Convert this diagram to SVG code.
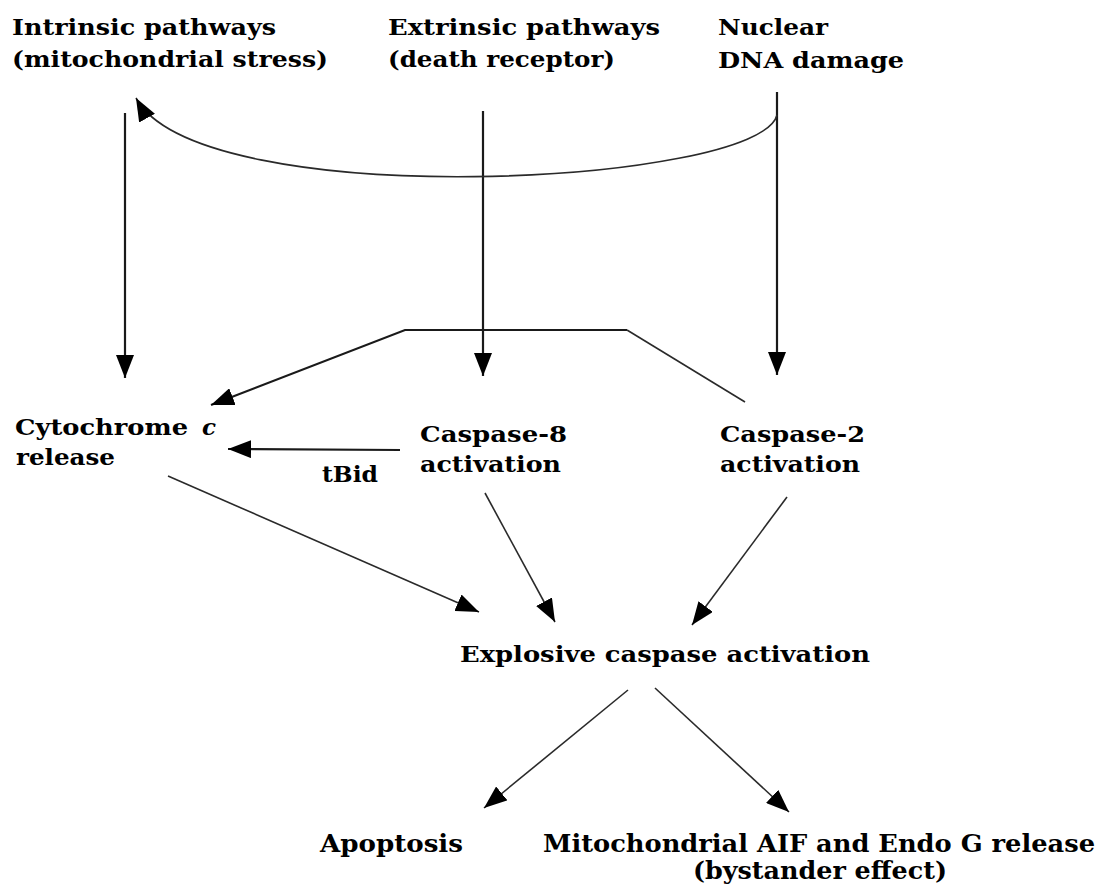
<svg xmlns="http://www.w3.org/2000/svg" width="1101" height="886" viewBox="0 0 1101 886">
<style>
  text { font-family: "DejaVu Serif", "Liberation Serif", serif; font-weight: bold; font-size: 23px; fill: #000; }
  .big { font-size: 24px; }
  .edge { fill: none; stroke: #1a1a1a; stroke-width: 2.2; }
  .thin { fill: none; stroke: #2a2a2a; stroke-width: 1.6; }
</style>
<defs>
  <marker id="ah" markerUnits="userSpaceOnUse" markerWidth="24" markerHeight="18" refX="23" refY="9" orient="auto">
    <path d="M0,0 L23,9 L0,18 z" fill="#000"/>
  </marker>
</defs>
<rect width="1101" height="886" fill="#fff"/>

<g id="connectors">
  <line class="edge" x1="125" y1="113" x2="125" y2="378" marker-end="url(#ah)"/>
  <line class="edge" x1="483" y1="111" x2="483" y2="376" marker-end="url(#ah)"/>
  <line class="edge" x1="777" y1="92" x2="777" y2="375" marker-end="url(#ah)"/>
  <path class="thin" d="M777,115 C760,185 200,215 136,98" marker-end="url(#ah)"/>
  <path class="edge" d="M627,330 L405,330 L211,405" marker-end="url(#ah)"/>
  <line class="thin" x1="627" y1="330" x2="745" y2="402"/>
  <line class="edge" x1="400" y1="450" x2="228" y2="449" marker-end="url(#ah)"/>
  <line class="thin" x1="168" y1="476" x2="479" y2="612" marker-end="url(#ah)"/>
  <line class="thin" x1="485" y1="493" x2="555" y2="622" marker-end="url(#ah)"/>
  <line class="thin" x1="787" y1="497" x2="692" y2="625" marker-end="url(#ah)"/>
  <line class="thin" x1="628" y1="690" x2="484" y2="808" marker-end="url(#ah)"/>
  <line class="thin" x1="655" y1="688" x2="789" y2="812" marker-end="url(#ah)"/>
</g>

<g id="intrinsic">
  <text x="12" y="35" textLength="264" lengthAdjust="spacingAndGlyphs">Intrinsic pathways</text>
  <text x="12" y="67" textLength="316" lengthAdjust="spacingAndGlyphs">(mitochondrial stress)</text>
</g>
<g id="extrinsic">
  <text x="388" y="35" textLength="272" lengthAdjust="spacingAndGlyphs">Extrinsic pathways</text>
  <text x="388" y="67" textLength="227" lengthAdjust="spacingAndGlyphs">(death receptor)</text>
</g>
<g id="dna">
  <text x="718" y="35" textLength="110" lengthAdjust="spacingAndGlyphs">Nuclear</text>
  <text x="718" y="68" textLength="186" lengthAdjust="spacingAndGlyphs">DNA damage</text>
</g>
<g id="cytc">
  <text x="15" y="435" textLength="173" lengthAdjust="spacingAndGlyphs">Cytochrome</text>
  <text x="202" y="435" font-style="italic">c</text>
  <text x="16" y="465" textLength="99" lengthAdjust="spacingAndGlyphs">release</text>
</g>
<g id="casp8">
  <text x="420" y="442" textLength="147" lengthAdjust="spacingAndGlyphs">Caspase-8</text>
  <text x="420" y="472" textLength="141" lengthAdjust="spacingAndGlyphs">activation</text>
</g>
<g id="casp2">
  <text x="720" y="442" textLength="145" lengthAdjust="spacingAndGlyphs">Caspase-2</text>
  <text x="720" y="472" textLength="140" lengthAdjust="spacingAndGlyphs">activation</text>
</g>
<g id="tbid">
  <text x="322" y="482" textLength="56" lengthAdjust="spacingAndGlyphs">tBid</text>
</g>
<g id="explosive">
  <text x="460" y="662" textLength="410" lengthAdjust="spacingAndGlyphs">Explosive caspase activation</text>
</g>
<g id="apoptosis">
  <text class="big" x="320" y="852" textLength="143" lengthAdjust="spacingAndGlyphs">Apoptosis</text>
</g>
<g id="aif">
  <text class="big" x="543" y="852" textLength="552" lengthAdjust="spacingAndGlyphs">Mitochondrial AIF and Endo G release</text>
  <text class="big" x="693" y="879" textLength="254" lengthAdjust="spacingAndGlyphs">(bystander effect)</text>
</g>
</svg>
